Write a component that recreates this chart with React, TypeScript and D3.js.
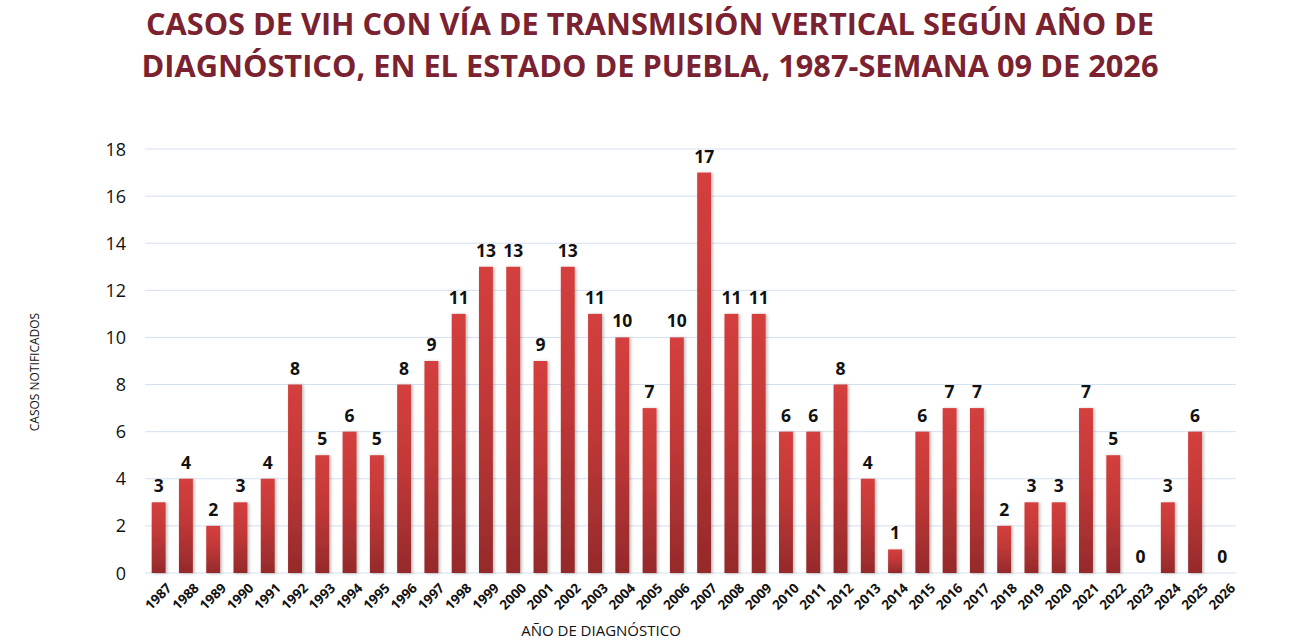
import React from "react";
import * as d3 from "d3";

const years: string[] = [
  "1987","1988","1989","1990","1991","1992","1993","1994","1995","1996",
  "1997","1998","1999","2000","2001","2002","2003","2004","2005","2006",
  "2007","2008","2009","2010","2011","2012","2013","2014","2015","2016",
  "2017","2018","2019","2020","2021","2022","2023","2024","2025","2026",
];
const cases: number[] = [
  3,4,2,3,4,8,5,6,5,8,
  9,11,13,13,9,13,11,10,7,10,
  17,11,11,6,6,8,4,1,6,7,
  7,2,3,3,7,5,0,3,6,0,
];
const yTicks: number[] = [0,2,4,6,8,10,12,14,16,18];
const titleLines: string[] = [
  "CASOS DE VIH CON VÍA DE TRANSMISIÓN VERTICAL SEGÚN AÑO DE",
  "DIAGNÓSTICO, EN EL ESTADO DE PUEBLA, 1987-SEMANA 09 DE 2026",
];
const yAxisTitle = "CASOS NOTIFICADOS";
const xAxisTitle = "AÑO DE DIAGNÓSTICO";

const W = 1291, H = 640;
const left = 145, right = 1236, top = 149, bottom = 573;
const font = "'Open Sans', Calibri, sans-serif";

export default function App() {
  const x = d3.scaleBand<string>().domain(years).range([left, right]).paddingInner(0.49).paddingOuter(0.245);
  const y = d3.scaleLinear().domain([0, 18]).range([bottom, top]);
  const bw = x.bandwidth();
  return (
    <svg width={W} height={H} style={{ position: "absolute", left: 0, top: 0, background: "#ffffff" }}>
      <defs>
        <linearGradient id="barGrad" x1="0" y1="0" x2="0" y2="1">
          <stop offset="0%" stopColor="#d43f3d" />
          <stop offset="45%" stopColor="#c13837" />
          <stop offset="100%" stopColor="#952a2b" />
        </linearGradient>
        <filter id="shadow" x="-50%" y="-10%" width="200%" height="130%">
          <feDropShadow dx="1.5" dy="0.5" stdDeviation="1.5" floodColor="#000" floodOpacity="0.28" />
        </filter>
      </defs>
      {titleLines.map((t, i) => (
        <text key={i} x={650} y={35 + i * 42} textAnchor="middle" fill="#7b2231"
          fontFamily={font} fontWeight={700} fontSize={30}
          textLength={i === 0 ? 1008 : 1017} lengthAdjust="spacingAndGlyphs">{t}</text>
      ))}
      {yTicks.map((t) => (
        <g key={t}>
          <line x1={left} x2={right} y1={y(t)} y2={y(t)} stroke="#d5dff0" strokeWidth={1} />
          <text x={126} y={y(t) + 6.5} textAnchor="end" fontFamily={font} fontSize={18} fill="#111">{t}</text>
        </g>
      ))}
      {years.map((yr, i) => {
        const v = cases[i];
        const bx = x(yr)!;
        const cx = bx + bw / 2;
        return (
          <g key={yr}>
            {v > 0 && (
              <rect x={bx} y={y(v)} width={bw} height={bottom - y(v)} fill="url(#barGrad)" filter="url(#shadow)" />
            )}
            <text x={cx} y={y(v) - 10} textAnchor="middle" fontFamily={font} fontWeight={700} fontSize={17.5} fill="#111">{v}</text>
            <text transform={`translate(${cx + 6},${bottom + 8}) rotate(-45)`} textAnchor="end"
              dominantBaseline="hanging" fontFamily={font} fontWeight={700} fontSize={13.5} fill="#111">{yr}</text>
          </g>
        );
      })}
      <text transform={`translate(39,372) rotate(-90)`} textAnchor="middle" fontFamily={font} fontSize={12} fill="#111">{yAxisTitle}</text>
      <text x={601} y={636} textAnchor="middle" fontFamily={font} fontSize={15} fill="#111">{xAxisTitle}</text>
    </svg>
  );
}
